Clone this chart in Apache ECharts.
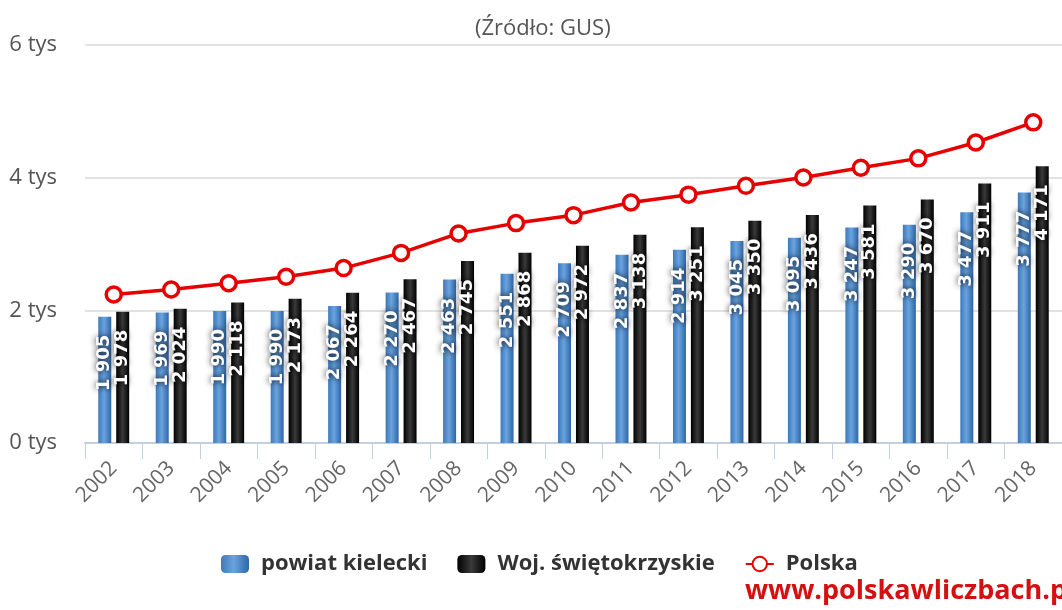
<!DOCTYPE html>
<html><head><meta charset="utf-8">
<script src="https://cdn.jsdelivr.net/npm/echarts@6/dist/echarts.min.js"></script>
<style>html,body{margin:0;padding:0;background:#fff;overflow:hidden}#c{width:1062px;height:610px}</style>
</head><body><div id="c"></div>
<script>
const years = ['2002','2003','2004','2005','2006','2007','2008','2009','2010','2011','2012','2013','2014','2015','2016','2017','2018'];
const powiatKielecki = [1905,1969,1990,1990,2067,2270,2463,2551,2709,2837,2914,3045,3095,3247,3290,3477,3777];
const wojSwietokrzyskie = [1978,2024,2118,2173,2264,2467,2745,2868,2972,3138,3251,3350,3436,3581,3670,3911,4171];
const polska = [2239,2314,2409,2507,2637,2866,3159,3315,3435,3625,3744,3877,4003,4150,4291,4530,4834];
const seriesNames = ['powiat kielecki','Woj. świętokrzyskie','Polska'];

function fmt(v){ return String(v).replace(/\B(?=(\d{3})+(?!\d))/g,' '); }

const chart = echarts.init(document.getElementById('c'));
const labelCfg = {
  show:true, position:'insideTop', distance:18, rotate:90, align:'right', verticalAlign:'middle',
  color:'#fff', fontWeight:'bold', fontSize:18, fontFamily:'DejaVu Sans',
  textShadowColor:'rgba(0,0,0,0.95)', textShadowBlur:6,
  formatter: p => fmt(p.value)
};
const blueGrad = new echarts.graphic.LinearGradient(0,0,1,0,[
  {offset:0,color:'#3d78ba'},{offset:0.45,color:'#6aa4de'},{offset:1,color:'#2f66a6'}]);
const blackGrad = new echarts.graphic.LinearGradient(0,0,1,0,[
  {offset:0,color:'#000'},{offset:0.5,color:'#3a3a3a'},{offset:1,color:'#000'}]);

chart.setOption({
  animation:false,
  textStyle:{fontFamily:'Open Sans'},
  title:{text:'(Źródło: GUS)', left:470, top:13,
    textStyle:{fontSize:22, fontWeight:'normal', color:'#555', fontFamily:'Open Sans'}},
  legend:{top:548, left:216, itemGap:30, itemWidth:28, itemHeight:18,
    textStyle:{fontSize:22, fontWeight:'bold', color:'#333', fontFamily:'Open Sans', padding:[0,0,0,7]},
    data:seriesNames},
  grid:{left:85, top:45, width:990, bottom:167, containLabel:false},
  xAxis:{type:'category', data:years,
    axisLine:{lineStyle:{color:'#c0d0e0', width:2}},
    axisTick:{show:true, length:16, lineStyle:{color:'#c0d0e0', width:1}},
    axisLabel:{rotate:45, fontSize:21, color:'#666', margin:22, fontFamily:'Open Sans'}},
  yAxis:{type:'value', min:0, max:6000, interval:2000,
    axisLabel:{formatter:v=>(v/1000)+' tys', fontSize:22, color:'#555', margin:28, fontFamily:'Open Sans'},
    splitLine:{lineStyle:{color:'#d8d8d8', width:1.5}}},
  graphic:[{type:'text', left:745, top:578,
    style:{text:'www.polskawliczbach.pl', fill:'#d41010', font:'bold 27px "Open Sans"'}}],
  series:[
    {name:seriesNames[0], type:'bar', data:powiatKielecki, barWidth:13, barGap:'38%',
      itemStyle:{color:blueGrad}, label:labelCfg},
    {name:seriesNames[1], type:'bar', data:wojSwietokrzyskie, barWidth:13, barGap:'38%',
      itemStyle:{color:blackGrad}, label:labelCfg},
    {name:seriesNames[2], type:'line', data:polska, z:5,
      lineStyle:{color:'#e60000', width:3.5}, symbol:'circle', symbolSize:15,
      itemStyle:{color:'#fff', borderColor:'#e60000', borderWidth:3.5}}
  ]
});
</script></body></html>
